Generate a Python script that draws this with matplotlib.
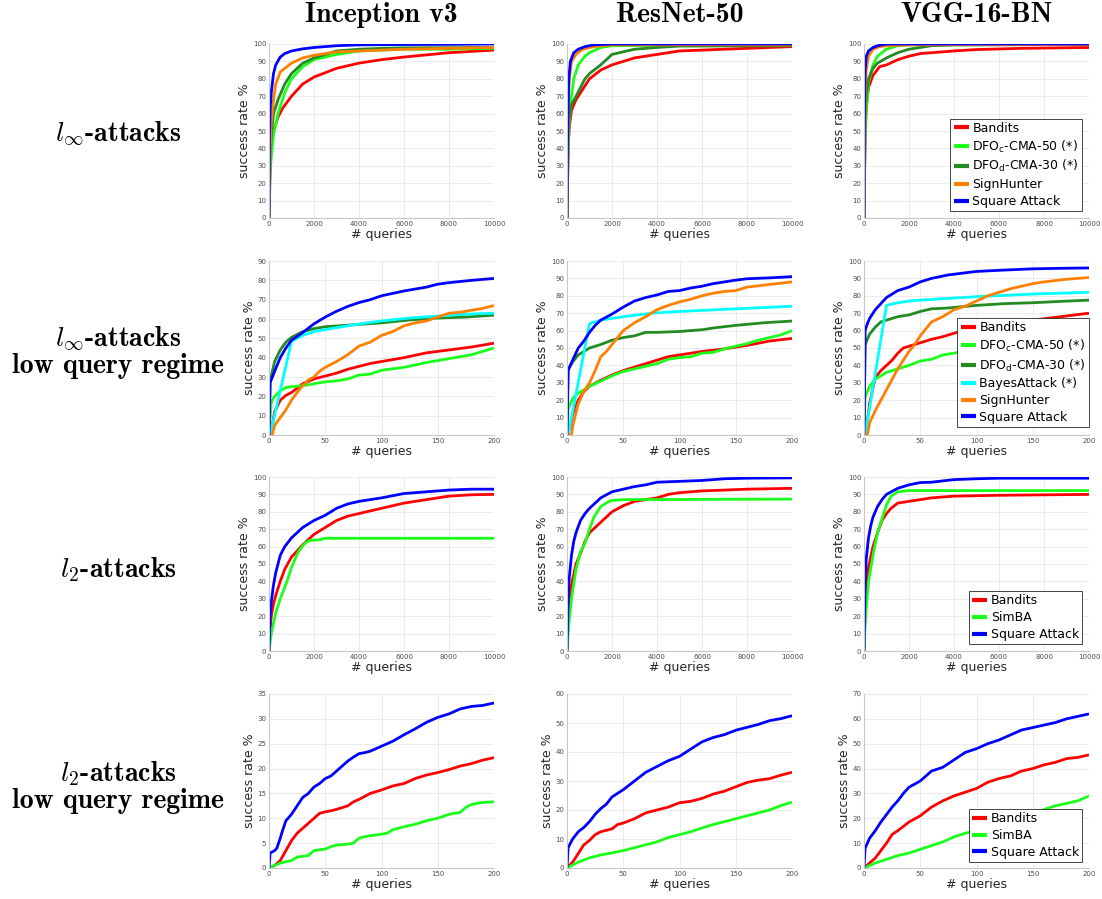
import matplotlib
matplotlib.use("Agg")
import matplotlib.pyplot as plt
import numpy as np

# ---------------- data ----------------
col_titles = ["Inception v3", "ResNet-50", "VGG-16-BN"]
row_titles = [r"$l_\infty$-attacks", "$l_\\infty$-attacks\nlow query regime",
              r"$l_2$-attacks", "$l_2$-attacks\nlow query regime"]
x_label = "# queries"
y_label = "success rate %"

COL = {"Bandits": "#ff0000", "DFOc": "#1aff1a", "DFOd": "#228b22",
       "Bayes": "#00ffff", "SignHunter": "#ff8000", "Square": "#0000ff",
       "SimBA": "#1aff1a"}
LABEL = {"Bandits": "Bandits", "DFOc": r"DFO$_\mathregular{c}$-CMA-50 (*)",
         "DFOd": r"DFO$_\mathregular{d}$-CMA-30 (*)", "Bayes": "BayesAttack (*)",
         "SignHunter": "SignHunter", "Square": "Square Attack", "SimBA": "SimBA"}

# Row 1: l_inf, 10000 queries
inc_linf = {
    "Bandits": ([0, 50, 100, 200, 400, 600, 1000, 1500, 2000, 3000, 4000, 5000, 6000, 8000, 10000],
                [0, 30, 40, 50, 58, 63, 70, 77, 81, 86, 89, 91, 92.5, 95, 96.5]),
    "DFOc": ([0, 50, 100, 200, 400, 700, 1000, 1500, 2000, 3000, 3500, 4000, 6000, 8000, 10000],
             [0, 25, 35, 48, 60, 72, 80, 87, 91, 94, 95, 96, 97, 97, 97.5]),
    "DFOd": ([0, 50, 100, 200, 400, 700, 1000, 1500, 2000, 3000, 4000, 5000, 6000, 10000],
             [0, 35, 48, 60, 68, 77, 83, 89, 92, 96, 97, 97.5, 97.8, 98]),
    "SignHunter": ([0, 50, 100, 200, 300, 500, 800, 1000, 1500, 2000, 3000, 4000, 5000, 6000, 8000, 10000],
                   [0, 40, 55, 68, 77, 84, 87, 89, 92, 93.5, 95.5, 96, 96.5, 97, 97.5, 98]),
    "Square": ([0, 20, 50, 100, 200, 300, 500, 700, 1000, 1500, 2000, 3000, 4000, 6000, 8000, 10000],
               [0, 45, 62, 72, 83, 88, 92.5, 94.5, 96, 97.2, 98, 99, 99.5, 99.7, 99.8, 100]),
}
res_linf = {
    "Bandits": ([0, 50, 100, 200, 400, 700, 1000, 1500, 2000, 3000, 4000, 5000, 6000, 8000, 10000],
                [0, 40, 52, 62, 68, 74, 80, 85, 88, 92, 94, 96, 96.5, 97.5, 98.5]),
    "DFOc": ([0, 50, 100, 200, 300, 500, 800, 1000, 1500, 2000, 10000],
             [0, 40, 55, 70, 80, 88, 93, 95, 98, 99, 99.5]),
    "DFOd": ([0, 50, 100, 200, 400, 600, 800, 1000, 1500, 2000, 2500, 3000, 4000, 5000, 10000],
             [0, 45, 58, 65, 70, 75, 80, 83, 88, 94, 95.5, 97, 98, 98.8, 99]),
    "SignHunter": ([0, 50, 100, 200, 400, 700, 1000, 1500, 2000, 10000],
                   [0, 60, 80, 90, 94, 97, 98, 99, 99.5, 99.5]),
    "Square": ([0, 30, 80, 150, 300, 500, 800, 1200, 2000, 10000],
               [0, 50, 80, 90, 95, 97, 98.5, 99.5, 100, 100]),
}
vgg_linf = {
    "Bandits": ([0, 50, 100, 200, 400, 700, 1000, 1500, 2000, 2500, 3000, 4000, 5000, 7000, 10000],
                [0, 50, 65, 75, 82, 87, 88, 91, 93, 94.5, 95, 96, 96.8, 97.5, 98]),
    "DFOc": ([0, 50, 100, 200, 400, 600, 800, 1000, 1500, 2000, 10000],
             [0, 45, 60, 78, 88, 93, 95, 97, 99, 99.5, 99.7]),
    "DFOd": ([0, 50, 100, 200, 400, 600, 1000, 1500, 2000, 2500, 3000, 4000, 10000],
             [0, 55, 70, 80, 86, 89, 92, 95, 97, 98, 99, 99.5, 99.7]),
    "SignHunter": ([0, 50, 100, 200, 400, 700, 1000, 2000, 10000],
                   [0, 70, 85, 93, 97, 98.5, 99, 99.5, 99.7]),
    "Square": ([0, 20, 50, 100, 200, 400, 600, 800, 1000, 10000],
               [0, 60, 85, 93, 96, 98, 99, 99.5, 100, 100]),
}

# Row 2: l_inf, low query regime (200 queries)
inc_linf_low = {
    "Bandits": ([0, 3, 5, 10, 15, 20, 30, 40, 50, 60, 70, 80, 90, 100, 120, 140, 160, 180, 200],
                [0, 5, 12, 18, 20.5, 22, 26.5, 29, 30.5, 32, 34, 35.5, 37, 38, 40, 42.5, 44, 45.5, 47.5]),
    "DFOc": ([0, 2, 5, 10, 15, 20, 30, 40, 50, 60, 70, 80, 90, 100, 120, 140, 160, 180, 200],
             [0, 17, 20, 23, 24.5, 25, 25.5, 26.5, 27.5, 28, 29, 31, 31.5, 33.5, 35, 37.5, 39.5, 41.5, 45]),
    "DFOd": ([0, 1, 5, 10, 15, 20, 30, 40, 50, 75, 100, 125, 150, 175, 200],
             [0, 28, 38, 44, 48, 50.5, 53.5, 55, 56, 57, 58, 59.5, 60.5, 61, 62]),
    "Bayes": ([0, 1, 20, 30, 40, 50, 75, 100, 125, 150, 175, 200],
              [0, 0, 48.5, 51.5, 53.5, 54.5, 57, 59, 60.5, 61.5, 62.5, 63]),
    "SignHunter": ([0, 3, 5, 10, 15, 20, 25, 30, 35, 40, 45, 50, 60, 70, 80, 90, 100, 110, 120, 130, 140, 150, 160, 170, 180, 190, 200],
                   [0, 0, 5, 9, 13, 18, 22, 25.5, 28.5, 30, 33, 35, 38, 41.5, 46, 48, 51.5, 53.5, 56.5, 58, 59, 61, 63, 63.5, 64.5, 65.5, 67]),
    "Square": ([0, 1, 5, 10, 15, 20, 30, 40, 50, 60, 70, 80, 90, 100, 120, 140, 150, 160, 180, 200],
               [0, 27, 33, 40, 45, 49, 53, 57.5, 61, 64, 66.5, 68.5, 70, 72, 74.5, 76.5, 78, 78.8, 80, 81]),
}
res_linf_low = {
    "Bandits": ([0, 3, 5, 10, 15, 20, 30, 40, 50, 60, 70, 80, 90, 100, 120, 140, 160, 180, 200],
                [0, 5, 12, 20, 25, 28, 31.5, 34.5, 37, 39, 41, 43, 45, 46, 48, 49.5, 51.5, 54, 55.5]),
    "DFOc": ([0, 1, 5, 10, 15, 20, 30, 40, 50, 60, 70, 80, 90, 100, 110, 120, 130, 140, 150, 160, 170, 180, 190, 200],
             [0, 15, 21, 24, 26, 28, 31, 34, 36.5, 38, 39.5, 41, 43.5, 44.5, 45, 47, 47.5, 49.5, 51, 52.5, 54.5, 56, 57.5, 60]),
    "DFOd": ([0, 1, 5, 10, 15, 20, 30, 40, 50, 60, 70, 80, 100, 120, 130, 150, 175, 200],
             [0, 38, 42, 46, 48, 50, 52, 54.5, 56, 57, 59, 59, 59.5, 60.5, 61.5, 63, 64.5, 65.5]),
    "Bayes": ([0, 1, 20, 30, 50, 75, 100, 150, 200],
              [0, 0, 64, 66, 68, 70, 71, 72.5, 74]),
    "SignHunter": ([0, 4, 5, 10, 15, 20, 25, 30, 35, 40, 50, 60, 70, 80, 90, 100, 110, 120, 130, 140, 150, 160, 180, 200],
                   [0, 0, 5, 18, 25, 30, 37, 45, 48, 52, 60, 64.5, 68, 72, 74.5, 76.5, 78, 80, 81.5, 82.5, 83, 85, 86.5, 88]),
    "Square": ([0, 1, 5, 10, 15, 20, 25, 30, 40, 50, 60, 70, 80, 90, 100, 110, 120, 130, 140, 150, 160, 180, 200],
               [0, 37, 43, 50, 54, 59, 63, 66, 69.5, 73.5, 77, 79, 80.5, 82.5, 83, 84.5, 85.5, 87, 88, 89, 89.8, 90.3, 91]),
}
vgg_linf_low = {
    "Bandits": ([0, 3, 5, 10, 15, 20, 25, 30, 35, 40, 50, 60, 70, 80, 90, 100, 125, 150, 175, 200],
                [0, 8, 18, 33, 37, 40, 43, 47, 50, 51, 53, 55, 56.5, 58.5, 60, 61.5, 64, 66, 68, 70]),
    "DFOc": ([0, 1, 5, 10, 20, 30, 40, 50, 60, 70, 80, 90, 120, 150, 175, 200],
             [0, 22, 28, 32, 36, 38, 40, 42.5, 43.5, 46, 47, 48.5, 51.5, 55, 58.5, 63]),
    "DFOd": ([0, 1, 5, 10, 15, 20, 30, 40, 50, 60, 75, 100, 125, 150, 175, 200],
             [0, 52, 58, 62, 65, 66, 68, 69, 71, 72.5, 73, 74.5, 75.5, 76, 76.8, 77.5]),
    "Bayes": ([0, 1, 20, 30, 40, 50, 75, 100, 150, 200],
              [0, 0, 74.5, 76, 77, 77.5, 78.5, 79.5, 81, 82]),
    "SignHunter": ([0, 3, 5, 10, 15, 20, 25, 30, 35, 40, 45, 50, 60, 70, 80, 90, 100, 110, 120, 130, 140, 150, 160, 180, 200],
                   [0, 0, 7, 14, 20, 26, 32, 38, 43, 48, 52, 57, 65, 68, 72, 74, 77, 80, 82, 84, 85.5, 87, 88, 89.5, 90.5]),
    "Square": ([0, 1, 3, 5, 10, 15, 20, 25, 30, 40, 50, 60, 75, 100, 125, 150, 175, 200],
               [0, 60, 64, 67, 72, 75.5, 79, 81, 83, 85, 88, 90, 92, 94, 94.8, 95.5, 95.8, 96]),
}

# Row 3: l_2, 10000 queries
inc_l2 = {
    "Bandits": ([0, 50, 100, 200, 300, 500, 700, 1000, 1500, 2000, 2500, 3000, 3500, 4000, 5000, 6000, 7000, 8000, 9000, 10000],
                [0, 12, 20, 27, 32, 40, 47, 54, 61, 67, 71, 75, 77.5, 79, 82, 85, 87, 89, 89.8, 90]),
    "SimBA": ([0, 100, 300, 500, 800, 1000, 1300, 1600, 1800, 2300, 2500, 10000],
              [0, 10, 22, 30, 40, 48, 57, 62, 63.5, 64, 64.8, 64.8]),
    "Square": ([0, 50, 100, 200, 300, 500, 700, 1000, 1500, 2000, 2500, 3000, 3500, 4000, 5000, 6000, 7000, 8000, 9000, 10000],
               [0, 20, 28, 38, 45, 55, 60, 65, 71, 75, 78, 82, 84.5, 86, 88, 90.5, 91.5, 92.5, 93, 93]),
}
res_l2 = {
    "Bandits": ([0, 50, 100, 200, 400, 600, 800, 1000, 1500, 2000, 2500, 3000, 3500, 4000, 4500, 5000, 6000, 7000, 8000, 10000],
                [0, 18, 28, 38, 50, 56, 63, 68, 74, 80, 83.5, 86, 87, 88, 90, 91, 92, 92.5, 93, 93.5]),
    "SimBA": ([0, 50, 100, 200, 400, 600, 800, 1000, 1200, 1500, 1800, 2000, 2500, 10000],
              [0, 10, 18, 30, 47, 57, 62, 70, 77, 83, 85.5, 86.5, 87, 87.3]),
    "Square": ([0, 50, 100, 200, 300, 400, 600, 800, 1000, 1500, 2000, 2500, 3000, 3500, 4000, 5000, 6000, 7000, 8000, 10000],
               [0, 30, 42, 55, 63, 68, 75, 79, 82, 88, 91.5, 93, 94.5, 95.5, 97, 97.5, 98, 99, 99.3, 99.5]),
}
vgg_l2 = {
    "Bandits": ([0, 50, 100, 200, 400, 600, 800, 1000, 1200, 1500, 2000, 2500, 3000, 4000, 6000, 10000],
                [0, 25, 35, 48, 60, 68, 75, 79, 82, 85, 86, 87, 88, 89, 89.5, 90]),
    "SimBA": ([0, 50, 100, 200, 400, 600, 800, 1000, 1200, 1500, 2000, 10000],
              [0, 15, 25, 40, 55, 68, 76, 84, 89, 91.5, 92.2, 92.2]),
    "Square": ([0, 50, 100, 200, 300, 400, 600, 800, 1000, 1500, 2000, 2500, 3000, 4000, 5000, 6000, 10000],
               [0, 40, 53, 65, 72, 77, 83, 87, 90, 93.5, 95.5, 96.8, 97, 98.5, 99, 99.3, 99.3]),
}

# Row 4: l_2, low query regime (200 queries)
inc_l2_low = {
    "Bandits": ([0, 5, 10, 15, 20, 25, 30, 35, 40, 45, 50, 55, 60, 70, 75, 80, 90, 100, 110, 120, 130, 140, 150, 160, 170, 180, 190, 200],
                [0, 0.5, 1.5, 3.5, 5.5, 7, 8, 9, 10, 11, 11.3, 11.5, 11.8, 12.5, 13.3, 13.8, 15, 15.7, 16.5, 17, 18, 18.7, 19.2, 19.8, 20.5, 21, 21.7, 22.2]),
    "SimBA": ([0, 5, 10, 20, 25, 35, 40, 50, 55, 60, 70, 75, 80, 85, 90, 100, 105, 110, 120, 130, 140, 150, 160, 170, 175, 180, 190, 200],
              [0, 0.5, 1, 1.5, 2.2, 2.5, 3.5, 3.8, 4.3, 4.6, 4.8, 5, 6, 6.3, 6.5, 6.8, 7, 7.7, 8.3, 8.8, 9.5, 10, 10.8, 11.2, 12.2, 12.8, 13.2, 13.3]),
    "Square": ([0, 1, 5, 7, 10, 12, 15, 20, 25, 30, 35, 40, 45, 50, 55, 60, 65, 70, 75, 80, 85, 90, 95, 100, 110, 120, 130, 140, 150, 160, 170, 180, 190, 200],
               [0, 3, 3.5, 4, 6, 7.5, 9.5, 10.8, 12.5, 14.2, 15, 16.3, 17, 18, 18.5, 19.5, 20.5, 21.5, 22.3, 23, 23.2, 23.5, 24, 24.5, 25.5, 26.8, 28, 29.3, 30.3, 31, 32, 32.5, 32.7, 33.2]),
}
res_l2_low = {
    "Bandits": ([0, 5, 10, 15, 20, 25, 30, 40, 45, 50, 60, 70, 80, 90, 100, 110, 120, 130, 140, 150, 160, 170, 180, 190, 200],
                [0, 2, 5, 8, 9.5, 11.5, 12.5, 13.5, 15, 15.5, 17, 19, 20, 21, 22.5, 23, 24, 25.5, 26.5, 28, 29.5, 30.3, 30.8, 32, 33]),
    "SimBA": ([0, 5, 10, 20, 30, 40, 50, 60, 70, 80, 90, 100, 110, 120, 130, 140, 150, 160, 170, 180, 190, 200],
              [0, 1, 2, 3.5, 4.5, 5.2, 6, 7, 8, 9, 10.5, 11.5, 12.5, 13.8, 15, 16, 17, 18, 19, 20, 21.5, 22.7]),
    "Square": ([0, 1, 5, 10, 15, 20, 25, 30, 35, 40, 50, 60, 70, 80, 90, 100, 110, 120, 130, 140, 150, 160, 170, 180, 190, 200],
               [0, 7, 10, 12.5, 14, 16, 18.5, 20.5, 22, 24.5, 27, 30, 33, 35, 37, 38.5, 41, 43.5, 45, 46, 47.5, 48.5, 49.5, 50.8, 51.5, 52.5]),
}
vgg_l2_low = {
    "Bandits": ([0, 5, 10, 15, 20, 25, 30, 40, 50, 60, 70, 80, 90, 100, 110, 120, 130, 140, 150, 160, 170, 180, 190, 200],
                [0, 2, 4, 7, 10, 13.5, 15, 18.5, 21, 24.5, 27, 29, 30.5, 32, 34.5, 36, 37, 39, 40, 41.5, 42.5, 44, 44.5, 45.5]),
    "SimBA": ([0, 5, 10, 20, 30, 40, 50, 60, 70, 80, 90, 100, 120, 150, 170, 190, 200],
              [0, 1, 2, 3.5, 5, 6, 7.5, 9, 10.5, 12.5, 14, 15, 17, 22, 25, 27, 29]),
    "Square": ([0, 1, 5, 10, 15, 20, 25, 30, 35, 40, 50, 60, 70, 80, 90, 100, 110, 120, 130, 140, 150, 160, 170, 180, 190, 200],
               [0, 8, 12, 15, 18.5, 21.5, 24.5, 27, 30, 32.5, 35, 39, 40.5, 43.5, 46.5, 48, 50, 51.5, 53.5, 55.5, 56.5, 57.5, 58.5, 60, 61, 62]),
}

panels = [[inc_linf, res_linf, vgg_linf],
          [inc_linf_low, res_linf_low, vgg_linf_low],
          [inc_l2, res_l2, vgg_l2],
          [inc_l2_low, res_l2_low, vgg_l2_low]]
row_xmax = [10000, 200, 10000, 200]
row_ymax = [[100, 100, 100], [90, 100, 100], [100, 100, 100], [35, 60, 70]]
row_ystep = [[10, 10, 10], [10, 10, 10], [10, 10, 10], [5, 10, 10]]

# ---------------- layout ----------------
W, H = 1102, 899
fig = plt.figure(figsize=(W / 100, H / 100), dpi=100)

col_left = [269, 567, 864]
ax_w = 225
row_top = [44, 261, 477, 694]
ax_h = 174
legend_anchor = [(0.969, 0.04), (1.0, 0.046), (0.969, 0.04), (0.969, 0.035)]

tick_col = "#4d4d4d"
for r in range(4):
    for c in range(3):
        rect = [col_left[c] / W, 1 - (row_top[r] + ax_h) / H, ax_w / W, ax_h / H]
        ax = fig.add_axes(rect)
        data = panels[r][c]
        for key, (xs, ys) in data.items():
            ax.plot(xs, ys, color=COL[key], lw=2.0, label=LABEL[key],
                    solid_joinstyle="round", solid_capstyle="butt")
        xmax = row_xmax[r]
        ymax = row_ymax[r][c]
        ax.set_xlim(0, xmax)
        ax.set_ylim(0, ymax)
        if xmax == 10000:
            ax.set_xticks(np.arange(0, 10001, 2000))
        else:
            ax.set_xticks(np.arange(0, 201, 50))
        ax.set_yticks(np.arange(0, ymax + 0.1, row_ystep[r][c]))
        ax.grid(True, color="#e8e8e8", lw=0.6)
        ax.set_axisbelow(True)
        for s in ["top", "right"]:
            ax.spines[s].set_visible(False)
        for s in ["left", "bottom"]:
            ax.spines[s].set_color("#c8c8c8")
            ax.spines[s].set_linewidth(0.8)
        ax.tick_params(axis="both", labelsize=5, colors=tick_col, length=0, pad=2)
        ax.set_xlabel(x_label, fontsize=9, color="#262626", labelpad=1)
        ax.set_ylabel(y_label, fontsize=9, color="#262626", labelpad=1)
        if c == 2:
            leg = ax.legend(loc="lower right", bbox_to_anchor=legend_anchor[r],
                            fontsize=9, frameon=True, fancybox=False,
                            edgecolor="#262626", framealpha=1.0,
                            borderpad=0.25, labelspacing=0.3, handlelength=1.2,
                            handletextpad=0.3, borderaxespad=0.0)
            leg.get_frame().set_linewidth(0.6)
            for ln in leg.get_lines():
                ln.set_linewidth(3.0)

# column titles
for c in range(3):
    fig.text((col_left[c] + ax_w / 2) / W, 1 - 15 / H, col_titles[c],
             ha="center", va="center", fontsize=20, fontfamily="cmb10",
             math_fontfamily="cm")

# row titles
row_centers = [134, 352, 570, 787]
for r in range(4):
    fig.text(118 / W, 1 - row_centers[r] / H, row_titles[r], ha="center",
             va="center", fontsize=20, fontfamily="cmb10", math_fontfamily="cm",
             linespacing=1.0)

fig.savefig("out.png", dpi=100)
